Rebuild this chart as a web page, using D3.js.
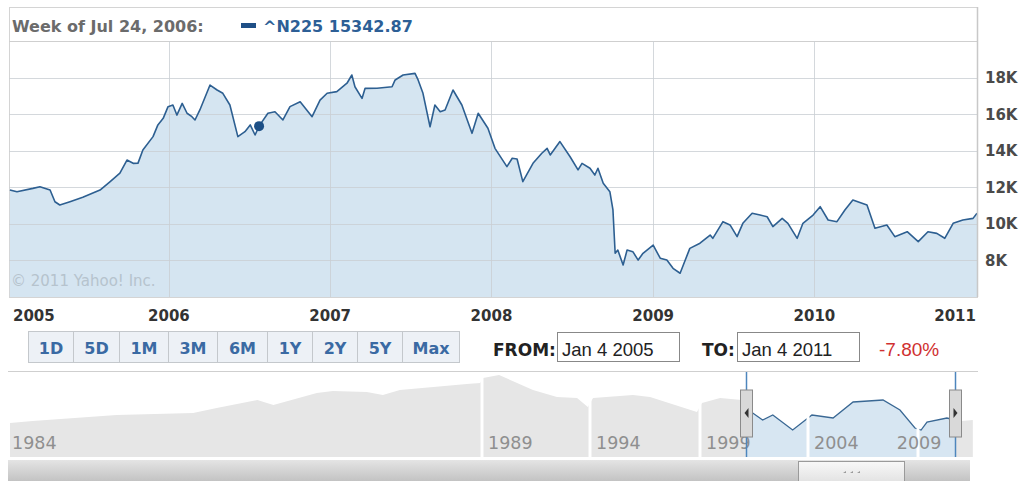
<!DOCTYPE html>
<html><head><meta charset="utf-8">
<script src="https://cdn.jsdelivr.net/npm/d3@7/dist/d3.min.js"></script>
<style>
html,body{margin:0;padding:0;background:#fff;}
svg{display:block;}
</style></head>
<body>
<svg id="c" width="1024" height="481"></svg>
<script>
// ---------- data ----------
const dates = ["2005-01-06","2005-01-22","2005-02-27","2005-03-15","2005-04-07","2005-04-18","2005-04-29","2005-05-22","2005-06-20","2005-07-29","2005-08-21","2005-09-12","2005-09-28","2005-10-12","2005-10-23","2005-11-03","2005-11-26","2005-12-07","2005-12-19","2005-12-30","2006-01-10","2006-01-19","2006-01-31","2006-02-11","2006-02-22","2006-03-01","2006-03-12","2006-04-04","2006-04-20","2006-05-03","2006-05-19","2006-06-06","2006-06-22","2006-07-04","2006-07-15","2006-07-24","2006-08-13","2006-08-29","2006-09-16","2006-10-02","2006-10-25","2006-11-21","2006-12-09","2006-12-25","2007-01-16","2007-02-08","2007-02-19","2007-02-26","2007-03-14","2007-03-21","2007-04-17","2007-05-21","2007-05-28","2007-06-15","2007-07-12","2007-07-19","2007-07-30","2007-08-15","2007-08-26","2007-09-07","2007-09-18","2007-10-06","2007-10-26","2007-11-18","2007-12-02","2007-12-24","2008-01-09","2008-02-05","2008-02-17","2008-02-28","2008-03-12","2008-04-04","2008-04-24","2008-05-06","2008-05-13","2008-06-04","2008-06-27","2008-07-15","2008-07-24","2008-08-11","2008-08-22","2008-08-29","2008-09-10","2008-09-25","2008-10-02","2008-10-07","2008-10-13","2008-10-25","2008-11-03","2008-11-16","2008-11-28","2008-12-09","2009-01-01","2009-01-17","2009-02-01","2009-02-15","2009-03-03","2009-03-25","2009-04-17","2009-05-10","2009-05-16","2009-06-08","2009-06-24","2009-07-10","2009-07-23","2009-08-13","2009-08-31","2009-09-16","2009-09-29","2009-10-20","2009-11-02","2009-11-23","2009-12-06","2009-12-29","2010-01-14","2010-02-01","2010-02-21","2010-03-11","2010-03-29","2010-04-30","2010-05-18","2010-06-14","2010-07-02","2010-07-30","2010-08-24","2010-09-15","2010-10-05","2010-10-23","2010-11-11","2010-12-03","2010-12-26","2011-01-04"];
const closes = [11850,11760,11940,12030,11850,11210,11030,11210,11450,11850,12310,12770,13490,13310,13320,14040,14770,15410,15770,16410,16500,15950,16590,16050,15860,15680,16230,17590,17320,17140,16500,14770,15040,15410,14860,15342.87,16050,16130,15680,16410,16680,15860,16770,17140,17230,17690,18140,17500,16860,17410,17420,17500,17870,18140,18230,17870,17140,15310,16500,16130,16230,17320,16500,14950,16050,15230,14130,13130,13590,13550,12310,13310,13860,14130,13770,14500,13670,12950,13310,13040,12670,13040,12220,11760,10760,8390,8570,7750,8570,8480,8020,8390,8840,8120,8020,7570,7300,8660,8940,9390,9210,10120,9940,9300,10030,10580,10480,10390,9850,10300,10030,9210,10030,10480,10940,10210,10120,10760,11300,11030,9760,9940,9300,9570,9030,9570,9480,9210,10030,10210,10300,10580];
const yTicks = [8000,10000,12000,14000,16000,18000];
const yearTicks = ["2005","2006","2007","2008","2009","2010","2011"];
const hoverDate = "2006-07-24", hoverValue = 15342.87, symbol = "^N225";
const rangeButtons = ["1D","5D","1M","3M","6M","1Y","2Y","5Y","Max"];
const fromLabel = "Jan 4 2005", toLabel = "Jan 4 2011", changeLabel = "-7.80%";

// navigator (full history)
const navYears = [1984.0,1984.24,1985.13,1985.94,1986.19,1986.62,1986.79,1987.25,1987.42,1987.78,1987.95,1988.13,1988.84,1988.98,1989.05,1989.79,1991.36,1992.47,1993.4,1993.9,1994.14,1995.95,1996.73,1998.86,1999.09,1999.93,2000.94,2001.13,2001.44,2001.9,2002.37,2003.29,2003.94,2004.18,2005.14,2006.05,2007.41,2008.18,2008.86,2009.14,2009.41,2010.32,2010.68,2011.0,2011.5];
const navValues = [16000,16940,19760,20700,23060,26820,24470,30120,31060,30590,29180,31530,34350,34820,37180,38590,31530,28240,27760,23530,27760,29180,28240,21180,25410,27760,26820,22120,20700,17410,19760,12700,17880,19760,18350,25880,26820,22120,13650,12700,16470,18350,17410,16940,17410];
const navBreaks = [1984,1989,1994,1999,2004,2009,2011.6];
const navLabels = ["1984","1989","1994","1999","2004","2009"];
const selection = [2001.13, 2010.68];

// ---------- layout ----------
const svg = d3.select("#c");
const P = {l:9, r:977, t:41, b:297, head:7};
const VF = "DejaVu Sans, Verdana, sans-serif";
const AF = "Liberation Sans, Arial, sans-serif";
const parse = d3.timeParse("%Y-%m-%d");
const data = dates.map((d,i)=>({d:parse(d), v:closes[i]}));

const x = d3.scaleTime().domain([parse("2005-01-04"), parse("2011-01-04")]).range([P.l, P.r]);
const y = d3.scaleLinear().domain([6000, 20000]).range([P.b, P.t]);

// frame
svg.append("rect").attr("x",P.l+0.5).attr("y",P.head+0.5).attr("width",P.r-P.l).attr("height",P.b-P.head)
  .attr("fill","#fff").attr("stroke","#d4d4d4");
svg.append("line").attr("x1",P.l).attr("x2",P.r).attr("y1",P.t+0.5).attr("y2",P.t+0.5).attr("stroke","#cfcfcf");

// area
const area = d3.area().x(d=>x(d.d)).y0(P.b).y1(d=>y(d.v));
const line = d3.line().x(d=>x(d.d)).y(d=>y(d.v));
svg.append("path").datum(data).attr("d",area).attr("fill","#d5e5f1");

// grid (on top of fill, as in reference)
const g = svg.append("g");
g.selectAll(".hg").data(yTicks).join("line")
  .attr("x1",P.l).attr("x2",P.r).attr("y1",d=>Math.round(y(d))+0.5).attr("y2",d=>Math.round(y(d))+0.5)
  .attr("stroke","#c9ced3").attr("stroke-opacity",0.8);
const yearDates = yearTicks.map(t=>parse(t+"-01-01"));
g.selectAll(".vg").data(yearDates.slice(1,-1)).join("line")
  .attr("x1",d=>Math.round(x(d))+0.5).attr("x2",d=>Math.round(x(d))+0.5).attr("y1",P.t).attr("y2",P.b)
  .attr("stroke","#c9ced3").attr("stroke-opacity",0.8);

svg.append("path").datum(data).attr("d",line).attr("fill","none").attr("stroke","#2d5f91").attr("stroke-width",1.6).attr("stroke-linejoin","round");

// right border
svg.append("line").attr("x1",P.r+0.5).attr("x2",P.r+0.5).attr("y1",P.head).attr("y2",P.b).attr("stroke","#c8c8c8").attr("stroke-width",1.5);

// hover dot
svg.append("circle").attr("cx",x(parse(hoverDate))).attr("cy",y(hoverValue)).attr("r",5).attr("fill","#1c4f86");

// copyright
svg.append("text").attr("x",11).attr("y",286).text("© 2011 Yahoo! Inc.")
  .attr("font-family",VF).attr("font-size",15).attr("fill","#b6c3cd");

// header text
const fmtWeek = d3.timeFormat("%b %-d, %Y");
svg.append("text").attr("x",12).attr("y",32).text("Week of "+fmtWeek(parse(hoverDate))+":")
  .attr("font-family",VF).attr("font-weight","bold").attr("font-size",16).attr("fill","#6b6b6b");
svg.append("rect").attr("x",241).attr("y",23).attr("width",15).attr("height",5).attr("fill","#1f4f86");
svg.append("text").attr("x",263).attr("y",32).text(symbol+" "+d3.format(".2f")(hoverValue))
  .attr("font-family",VF).attr("font-weight","bold").attr("font-size",16).attr("fill","#2d5f96");

// y axis labels
svg.append("g").selectAll("text").data(yTicks).join("text")
  .attr("x",985).attr("y",d=>y(d)+5.5).text(d=>(d/1000)+"K")
  .attr("font-family",VF).attr("font-weight","bold").attr("font-size",15).attr("fill","#4a4a4a");

// x axis labels
svg.append("g").selectAll("text").data(yearDates).join("text")
  .attr("x",(d,i)=> i===0 ? 13 : (i===yearDates.length-1 ? 976 : x(d)))
  .attr("text-anchor",(d,i)=> i===0 ? "start" : (i===yearDates.length-1 ? "end" : "middle"))
  .attr("y",321).text((d,i)=>yearTicks[i])
  .attr("font-family",VF).attr("font-weight","bold").attr("font-size",15).attr("fill","#333");

// range buttons
const edges = [28,73,119,168,217,267,312,357,402,459];
const btn = svg.append("g").selectAll("g").data(rangeButtons).join("g")
  .attr("transform",(d,i)=>`translate(${edges[i]},331)`);
btn.append("rect").attr("x",0.5).attr("y",0.5).attr("width",(d,i)=>edges[i+1]-edges[i]).attr("height",31)
  .attr("fill","#edf1f6").attr("stroke","#c4c8cc");
btn.append("text").attr("x",(d,i)=>(edges[i+1]-edges[i])/2+0.5).attr("y",23).attr("text-anchor","middle").text(d=>d)
  .attr("font-family",VF).attr("font-weight","bold").attr("font-size",16).attr("fill","#3a6aa3");

// from / to
svg.append("text").attr("x",493).attr("y",356).text("FROM:")
  .attr("font-family",VF).attr("font-weight","bold").attr("font-size",17).attr("fill","#222");
svg.append("rect").attr("x",557.5).attr("y",332.5).attr("width",122).attr("height",29).attr("fill","#fff").attr("stroke","#888");
svg.append("text").attr("x",562).attr("y",356).text(fromLabel).attr("font-family",AF).attr("font-size",18.5).attr("fill","#222");
svg.append("text").attr("x",702).attr("y",356).text("TO:")
  .attr("font-family",VF).attr("font-weight","bold").attr("font-size",17).attr("fill","#222");
svg.append("rect").attr("x",737.5).attr("y",332.5).attr("width",122).attr("height",29).attr("fill","#fff").attr("stroke","#888");
svg.append("text").attr("x",742).attr("y",356).text(toLabel).attr("font-family",AF).attr("font-size",18.5).attr("fill","#222");
svg.append("text").attr("x",879).attr("y",356).text(changeLabel).attr("font-family",AF).attr("font-size",19).attr("fill","#d03030");

// ---------- navigator ----------
const NV = {t:372, b:457};
const nx = d3.scaleLinear().domain(navBreaks).range([10,482,590,700,808,918,975]);
const ny = d3.scaleLinear().domain([0,40000]).range([NV.b, NV.t]);
svg.append("line").attr("x1",8).attr("x2",978).attr("y1",NV.t-0.5).attr("y2",NV.t-0.5).attr("stroke","#cfcfcf");
const navData = navYears.map((yr,i)=>({yr, v:navValues[i]}));
const nArea = d3.area().x(d=>nx(d.yr)).y0(NV.b).y1(d=>ny(d.v));
const nLine = d3.line().x(d=>nx(d.yr)).y(d=>ny(d.v));
svg.append("path").datum(navData).attr("d",nArea).attr("fill","#e6e6e6");
// selection
svg.append("clipPath").attr("id","selclip").append("rect")
  .attr("x",nx(selection[0])).attr("y",NV.t).attr("width",nx(selection[1])-nx(selection[0])).attr("height",NV.b-NV.t);
const sel = svg.append("g").attr("clip-path","url(#selclip)");
sel.append("path").datum(navData).attr("d",nArea).attr("fill","#d7e6f2");
sel.append("path").datum(navData).attr("d",nLine).attr("fill","none").attr("stroke","#3a6894").attr("stroke-width",1.3);
// segment gaps
svg.append("g").selectAll("line").data(navBreaks.slice(1,-1)).join("line")
  .attr("x1",d=>nx(d)).attr("x2",d=>nx(d)).attr("y1",NV.t).attr("y2",NV.b).attr("stroke","#fff").attr("stroke-width",3);
// labels
const selR = nx(selection[1]);
svg.append("g").selectAll("text").data(navLabels).join("text")
  .attr("x",d=>Math.min(nx(+d)+(+d===1984?2:6), selR-58))
  .attr("y",449).text(d=>d)
  .attr("font-family",VF).attr("font-size",17.5).attr("fill","#8f8f8f");
// handles
selection.forEach((s,i)=>{
  const hx = Math.round(nx(s))+0.5;
  svg.append("line").attr("x1",hx).attr("x2",hx).attr("y1",NV.t).attr("y2",NV.b).attr("stroke","#4d86bd").attr("stroke-width",1.5);
  const gr = svg.append("g").attr("transform",`translate(${hx-6},390)`);
  gr.append("rect").attr("width",12).attr("height",47).attr("fill","#d9d9d9").attr("stroke","#8a8a8a");
  gr.append("path").attr("d", i===0 ? "M8,18 L4,23 L8,28Z" : "M4,18 L8,23 L4,28Z").attr("fill","#333");
});
// scrollbar
const defs = svg.append("defs");
const lg = defs.append("linearGradient").attr("id","sb").attr("x1",0).attr("x2",0).attr("y1",0).attr("y2",1);
lg.append("stop").attr("offset",0).attr("stop-color","#e4e4e4");
lg.append("stop").attr("offset",1).attr("stop-color","#c3c3c3");
svg.append("rect").attr("x",8).attr("y",460).attr("width",962).attr("height",21).attr("fill","url(#sb)");
const lg2 = defs.append("linearGradient").attr("id","sbt").attr("x1",0).attr("x2",0).attr("y1",0).attr("y2",1);
lg2.append("stop").attr("offset",0).attr("stop-color","#f8f8f8");
lg2.append("stop").attr("offset",1).attr("stop-color","#e2e2e2");
svg.append("rect").attr("x",798.5).attr("y",461.5).attr("width",106).attr("height",21).attr("fill","url(#sbt)").attr("stroke","#9a9a9a");
svg.append("g").selectAll("path").data([0,1,2]).join("path")
  .attr("d",(d)=>`M${843+d*7},473 l3,-2 l0,2z`).attr("fill","#999");
</script>
</body></html>
